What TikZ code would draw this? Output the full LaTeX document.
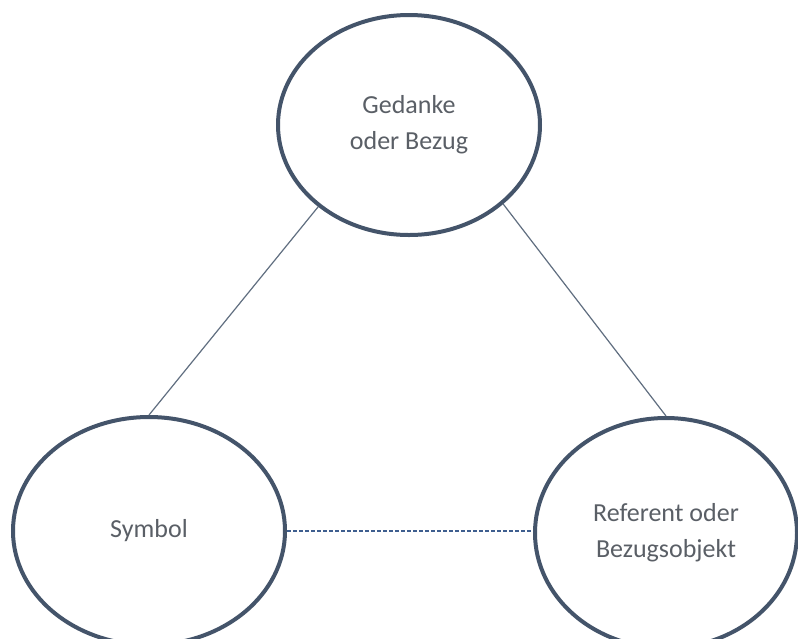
\documentclass[tikz,border=0pt]{standalone}
\usepackage{fontspec}
\setmainfont{Carlito}
\usepackage{xcolor}
\usetikzlibrary{shapes.geometric}
\definecolor{rimblue}{HTML}{44546A}
\definecolor{textgray}{HTML}{5A5F66}
\definecolor{dashblue}{HTML}{3F5F8F}

\begin{document}
\begin{tikzpicture}[x=0.5pt, y=-0.5pt, thick,
    E node/.style={ellipse, draw=rimblue, line width=2pt, fill=white, text=textgray, align=center, inner sep=0pt, font=\fontsize{13}{18}\selectfont},
    link/.style={draw=rimblue!85, line width=0.6pt}]
    \useasboundingbox[fill=white] (0,0) rectangle (798,638);
    \node[E node, minimum width=131pt, minimum height=110pt] (G) at (409,125) {Gedanke\\oder Bezug};
    \node[E node, minimum width=136pt, minimum height=114pt] (S) at (149,531) {Symbol};
    \node[E node, minimum width=131pt, minimum height=115pt] (R) at (666,533) {Referent oder\\Bezugsobjekt};

    \path
    (G.222) edge[link] (S.north)
    (G.320) edge[link] (R.north)
    ;

    \draw[dashblue, line width=0.75pt, dash pattern=on 2pt off 1pt] (S.east) -- (S.east -| R.west);
\end{tikzpicture}
\end{document}
